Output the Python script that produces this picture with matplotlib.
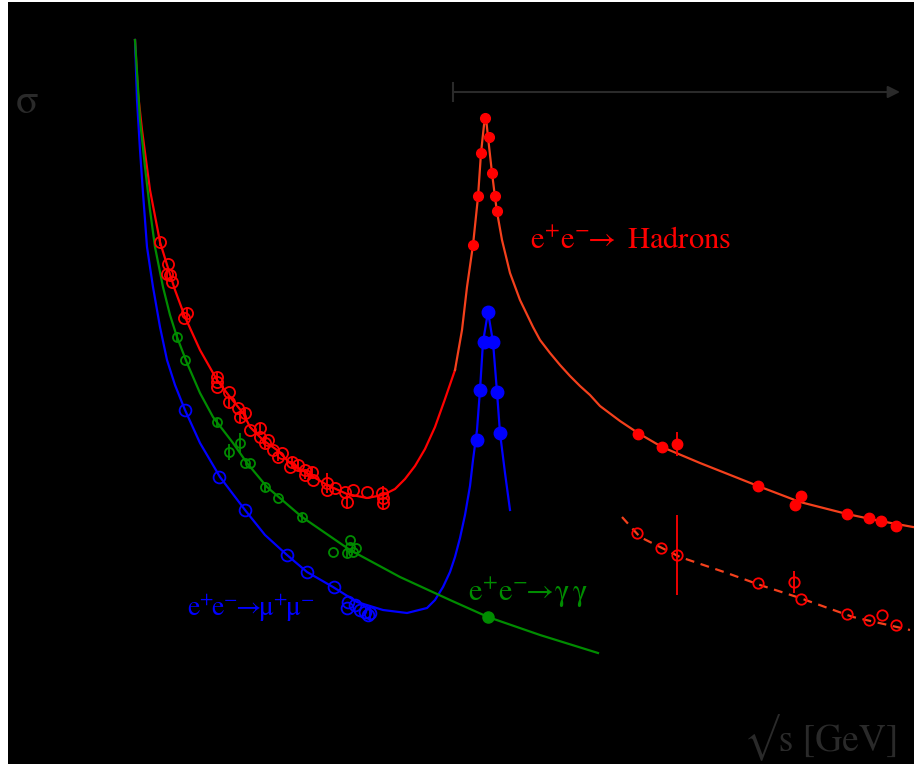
import matplotlib
matplotlib.use("Agg")
import matplotlib.pyplot as plt

plt.rcParams['mathtext.fontset'] = 'stix'
plt.rcParams['font.family'] = ['STIXGeneral', 'DejaVu Serif']

# schematic: x ~ sqrt(s), y ~ sigma (arbitrary units)
had_low_x = [135, 138, 142, 150, 160, 168, 175, 185, 200, 217, 230, 243, 250, 263, 277,
             290, 307, 327, 347, 367, 383, 395, 405, 415, 425, 435, 445, 455]
had_low_y = [724, 671, 634, 574, 522, 496, 474, 447, 414, 384, 367, 351, 337, 324, 314,
             301, 291, 279, 270, 266, 269, 275, 285, 298, 315, 337, 365, 394]
had_high_x = [455, 462, 467, 473, 478, 481, 484, 486, 488, 492, 495, 497, 502, 510, 520,
              533, 540, 550, 560, 570, 580, 590, 600, 620, 638, 662, 700, 758, 800, 847,
              880, 913]
had_high_y = [394, 434, 477, 519, 567, 611, 639, 646, 627, 591, 567, 552, 524, 491, 464,
              437, 424, 411, 399, 388, 378, 369, 358, 343, 331, 317, 301, 278, 262, 250,
              243, 237]

had_dash_x = [622, 640, 680, 727, 760, 800, 853, 910]
had_dash_y = [247, 227, 207, 191, 179, 166, 147, 134]

mumu_x = [135, 137, 140, 143, 147, 153, 160, 167, 175, 185, 200, 220, 245, 265, 287, 307,
          333, 357, 383, 407, 427, 435, 443, 450, 455, 460, 465, 470, 473, 477, 480, 483,
          488, 493, 497, 500, 505, 510]
mumu_y = [724, 664, 614, 571, 517, 477, 437, 404, 379, 354, 321, 287, 254, 229, 209, 192,
          177, 162, 154, 151, 156, 164, 177, 192, 207, 226, 249, 278, 304, 334, 374, 422,
          452, 422, 372, 331, 291, 254]

gg_x = [135, 140, 145, 150, 155, 163, 170, 177, 187, 200, 213, 233, 247, 267, 302, 350,
        400, 450, 488, 540, 598]
gg_y = [724, 644, 597, 554, 517, 477, 449, 427, 401, 371, 347, 321, 301, 277, 247, 214,
        187, 164, 147, 129, 111]

# measurements
had_open_x = [160, 168, 167, 170, 172, 187, 184, 217, 217, 217, 229, 229, 238, 245, 240,
              250, 260, 260, 268, 265, 273, 282, 278, 292, 290, 298, 305, 305, 312, 313,
              327, 327, 335, 345, 347, 353, 367, 382, 383, 383]
had_open_y = [522, 500, 490, 489, 482, 451, 446, 387, 382, 377, 372, 362, 356, 351, 347,
              334, 336, 327, 324, 321, 314, 311, 307, 302, 297, 299, 294, 289, 292, 284,
              281, 274, 276, 272, 262, 274, 272, 271, 266, 261]
had_open_err = [4, 0, 5, 0, 0, 6, 0, 5, 0, 0, 0, 5, 0, 4, 6, 0, 5, 0, 0, 5,
                0, 0, 4, 5, 0, 6, 0, 4, 5, 0, 10, 0, 0, 0, 7, 0, 0, 0, 12, 0]

had_peak_x = [485, 489, 481, 492, 478, 495, 497, 473]
had_peak_y = [646, 627, 611, 591, 568, 568, 553, 519]

had_hi_x = [638, 662, 677, 758, 795, 801, 847, 869, 881, 896]
had_hi_y = [330, 317, 320, 278, 259, 268, 250, 246, 243, 238]
had_hi_err = [0, 0, 12, 0, 6, 0, 0, 0, 0, 0]

had_dopen_x = [637, 661, 677, 758, 794, 801, 847, 869, 882, 896]
had_dopen_y = [231, 216, 209, 181, 182, 165, 150, 144, 149, 139]
had_dopen_err = [0, 0, 40, 0, 11, 0, 0, 0, 0, 0]

gg_open_x = [177, 185, 217, 229, 240, 245, 250, 265, 278, 302, 333, 350, 350, 347, 353, 356]
gg_open_y = [427, 404, 342, 312, 321, 301, 301, 277, 266, 247, 212, 224, 217, 211, 212, 216]
gg_open_err = [5, 0, 4, 8, 10, 0, 0, 5, 0, 4, 0, 0, 0, 5, 0, 0]
gg_fill_x = [488]
gg_fill_y = [147]

mumu_open_x = [185, 219, 245, 287, 307, 334, 348, 347, 355, 360, 365, 370, 368]
mumu_open_y = [354, 287, 254, 209, 192, 177, 162, 156, 159, 154, 152, 151, 149]
mumu_open_err = [0, 0, 0, 0, 0, 0, 0, 0, 0, 0, 0, 8, 0]
mumu_fill_x = [488, 484, 493, 480, 497, 477, 500]
mumu_fill_y = [452, 422, 422, 374, 372, 324, 331]

red = '#ff0000'
orange = '#f4401c'
blue = '#0000ff'
green = '#008c00'
grey = '#2a2a2a'

fig = plt.figure(figsize=(9.14, 7.64), dpi=100, facecolor='white')
ax = fig.add_axes([8 / 914, 0, 906 / 914, 762 / 764])
ax.set_facecolor('black')
ax.set_xlim(8, 914)
ax.set_ylim(0, 762)
ax.set_xticks([])
ax.set_yticks([])
for s in ax.spines.values():
    s.set_visible(False)

# theory curves
ax.plot(had_low_x, had_low_y, color=red, lw=1.6)
ax.plot(had_high_x, had_high_y, color=orange, lw=1.6)
ax.plot(had_dash_x, had_dash_y, color=orange, lw=1.6, ls=(0, (4, 3)))
ax.plot(mumu_x, mumu_y, color=blue, lw=1.6)
ax.plot(gg_x, gg_y, color=green, lw=1.6)

# data points
ax.errorbar(had_open_x, had_open_y, yerr=had_open_err, fmt='o', ms=8, mfc='none',
            mec=red, mew=1.3, ecolor=red, elinewidth=1.3)
ax.plot(had_peak_x, had_peak_y, 'o', ms=7, color=red)
ax.errorbar(had_hi_x, had_hi_y, yerr=had_hi_err, fmt='o', ms=7.5, color=red,
            ecolor=red, elinewidth=1.3)
ax.errorbar(had_dopen_x, had_dopen_y, yerr=had_dopen_err, fmt='o', ms=7.5, mfc='none',
            mec=red, mew=1.3, ecolor=red, elinewidth=1.3)
ax.errorbar(gg_open_x, gg_open_y, yerr=gg_open_err, fmt='o', ms=6.5, mfc='none',
            mec=green, mew=1.3, ecolor=green, elinewidth=1.3)
ax.plot(gg_fill_x, gg_fill_y, 'o', ms=8, color=green)
ax.errorbar(mumu_open_x, mumu_open_y, yerr=mumu_open_err, fmt='o', ms=8.5, mfc='none',
            mec=blue, mew=1.3, ecolor=blue, elinewidth=1.3)
ax.plot(mumu_fill_x, mumu_fill_y, 'o', ms=9, color=blue)

# labels
ax.text(530, 522, r'$\mathrm{e^{+}e^{-}\!\!\rightarrow\ Hadrons}$', color=red,
        fontsize=22, va='center', ha='left')
ax.text(187, 156, r'$\mathrm{e^{+}\!e^{-}\!\!\rightarrow\!\!\mu^{+}\!\mu^{-}}$', color=blue,
        fontsize=20, va='center', ha='left')
ax.text(468, 171, r'$\mathrm{e^{+}e^{-}\!\!\rightarrow\!\gamma\,\gamma}$', color=green,
        fontsize=22, va='center', ha='left')
ax.text(16, 661, 'σ', color=grey, fontsize=30, va='center', ha='left',
        family=['STIXGeneral', 'DejaVu Serif'])
ax.text(898, 13, '√s [GeV]', color=grey, fontsize=27, va='baseline', ha='right',
        family=['STIXGeneral', 'DejaVu Serif'])

# energy range arrow
ax.annotate('', xy=(900, 672), xytext=(453, 672),
            arrowprops=dict(arrowstyle='-|>', color=grey, lw=1.5, mutation_scale=18,
                            shrinkA=0, shrinkB=0))
ax.plot([453, 453], [663, 681], color=grey, lw=1.5)

fig.savefig('out.png', dpi=100, facecolor='white')
